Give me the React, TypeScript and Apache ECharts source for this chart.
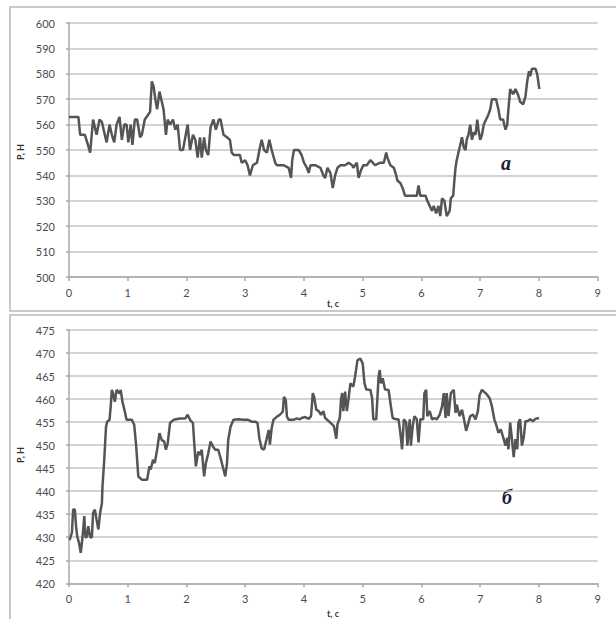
import React, { useEffect, useRef } from "react";
import * as echarts from "echarts";

const xTicks = [0, 1, 2, 3, 4, 5, 6, 7, 8, 9];

const timeA = [
  0.0, 0.16, 0.19, 0.27, 0.31, 0.36, 0.41, 0.47, 0.52, 0.56, 0.59, 0.64, 0.69, 0.73, 0.77, 0.81, 0.86, 0.9, 0.94, 0.98,
  1.01, 1.05, 1.08, 1.12, 1.16, 1.21, 1.24, 1.29, 1.35, 1.38, 1.41, 1.44, 1.47, 1.5, 1.54, 1.58, 1.61, 1.65, 1.68, 1.72,
  1.77, 1.81, 1.85, 1.89, 1.94, 1.98, 2.02, 2.06, 2.11, 2.15, 2.19, 2.23, 2.26, 2.3, 2.33, 2.37, 2.41, 2.46, 2.5, 2.55,
  2.58, 2.63, 2.69, 2.74, 2.77, 2.81, 2.86, 2.91, 2.94, 3.0, 3.04, 3.08, 3.13, 3.2, 3.25, 3.28, 3.32, 3.37, 3.41, 3.45,
  3.51, 3.54, 3.65, 3.74, 3.78, 3.8, 3.83, 3.91, 3.96, 4.0, 4.05, 4.08, 4.11, 4.19, 4.28, 4.33, 4.36, 4.4, 4.45, 4.49,
  4.53, 4.57, 4.62, 4.7, 4.76, 4.82, 4.84, 4.9, 4.93, 4.97, 5.01, 5.07, 5.13, 5.17, 5.21, 5.3, 5.36, 5.4, 5.42, 5.47,
  5.53, 5.57, 5.59, 5.64, 5.68, 5.72, 5.78, 5.87, 5.92, 5.95, 5.98, 6.07, 6.1, 6.14, 6.18, 6.21, 6.25, 6.29, 6.32, 6.35,
  6.39, 6.43, 6.48, 6.5, 6.54, 6.56, 6.58, 6.6, 6.63, 6.66, 6.69, 6.72, 6.75, 6.77, 6.8, 6.83, 6.86, 6.89, 6.92, 6.95,
  6.97, 7.0, 7.03, 7.06, 7.1, 7.14, 7.17, 7.2, 7.27, 7.31, 7.34, 7.39, 7.43, 7.46, 7.48, 7.51, 7.56, 7.6, 7.64, 7.68,
  7.73, 7.77, 7.8, 7.83, 7.85, 7.88, 7.94, 7.97, 8.0, 8.01,
];
const forceA = [
  563, 563, 556, 556, 553, 549, 562, 556, 562, 561, 558, 553, 560, 556, 553, 560, 563, 554, 560, 560,
  553, 560, 552, 562, 562, 555, 556, 562, 564, 565, 577, 575, 570, 566, 573, 569, 566, 556, 562, 560,
  562, 558, 560, 550, 550, 555, 560, 550, 556, 554, 547, 555, 547, 555, 550, 548, 559, 562, 558, 562,
  562, 556, 555, 554, 549, 548, 548, 548, 545, 546, 544, 540, 544, 545, 551, 554, 550, 549, 554, 550,
  545, 544, 544, 543, 539, 546, 550, 550, 548, 545, 543, 541, 544, 544, 543, 540, 539, 543, 541, 535,
  540, 543, 544, 544, 545, 544, 543, 545, 539, 542, 544, 544, 546, 545, 544, 545, 545, 549, 547, 544,
  543, 540, 538, 537, 535, 532, 532, 532, 532, 536, 532, 532, 530, 528, 526, 528, 525, 528, 524, 531,
  530, 524, 526, 531, 532, 538, 543, 546, 549, 552, 555, 551, 550, 554, 556, 560, 554, 557, 556, 562,
  558, 554, 556, 560, 562, 564, 566, 570, 570, 566, 562, 562, 558, 560, 566, 574, 572, 574, 572, 569,
  568, 571, 577, 581, 579, 582, 582, 580, 575, 574,
];

const timeB = [
  0.01, 0.05, 0.07, 0.1, 0.12, 0.14, 0.17, 0.2, 0.23, 0.26, 0.28, 0.3, 0.33, 0.36, 0.39, 0.41, 0.44, 0.47, 0.5, 0.53,
  0.56, 0.57, 0.6, 0.63, 0.65, 0.69, 0.71, 0.73, 0.75, 0.78, 0.81, 0.86, 0.88, 0.91, 0.95, 0.98, 1.07, 1.11, 1.14, 1.18,
  1.24, 1.33, 1.37, 1.39, 1.43, 1.46, 1.5, 1.54, 1.58, 1.62, 1.65, 1.68, 1.72, 1.78, 1.89, 1.98, 2.02, 2.06, 2.11, 2.13,
  2.16, 2.2, 2.23, 2.26, 2.28, 2.3, 2.33, 2.37, 2.41, 2.45, 2.49, 2.54, 2.58, 2.63, 2.66, 2.69, 2.71, 2.75, 2.8, 2.88,
  2.97, 3.05, 3.11, 3.17, 3.21, 3.24, 3.28, 3.32, 3.36, 3.4, 3.42, 3.45, 3.48, 3.54, 3.59, 3.64, 3.66, 3.69, 3.71, 3.74,
  3.82, 3.88, 3.93, 3.96, 4.02, 4.08, 4.12, 4.15, 4.17, 4.21, 4.25, 4.29, 4.33, 4.36, 4.42, 4.48, 4.51, 4.55, 4.57, 4.61,
  4.63, 4.65, 4.67, 4.7, 4.73, 4.76, 4.79, 4.84, 4.87, 4.91, 4.96, 5.0, 5.03, 5.06, 5.13, 5.16, 5.18, 5.23, 5.27, 5.29,
  5.31, 5.34, 5.38, 5.44, 5.48, 5.51, 5.57, 5.61, 5.64, 5.67, 5.7, 5.74, 5.76, 5.8, 5.82, 5.85, 5.88, 5.92, 5.95, 5.98,
  6.03, 6.05, 6.08, 6.1, 6.14, 6.18, 6.22, 6.26, 6.31, 6.35, 6.38, 6.41, 6.43, 6.46, 6.5, 6.55, 6.58, 6.6, 6.65, 6.69,
  6.72, 6.76, 6.8, 6.83, 6.88, 6.92, 6.96, 6.99, 7.03, 7.09, 7.12, 7.16, 7.2, 7.24, 7.27, 7.31, 7.35, 7.4, 7.43, 7.46,
  7.48, 7.51, 7.54, 7.57, 7.6, 7.63, 7.65, 7.68, 7.71, 7.74, 7.77, 7.8, 7.85, 7.9, 7.94, 8.0,
];
const forceB = [
  429.4, 431, 436, 436, 432.4, 430.2, 428.8, 426.6, 430, 434.6, 430, 430, 432.4, 430, 430, 435.3, 436, 433.8, 431.7, 435.3,
  437.4, 441, 446.8, 454, 455.1, 455.5, 458.4, 462, 461.2, 459.4, 462, 461.2, 462, 459.4, 457.3, 455.5, 455.5, 454.4, 450.4, 443.2,
  442.5, 442.5, 445.4, 444.7, 446.8, 446.1, 449, 452.6, 451.1, 450.8, 449, 450.4, 454.8, 455.5, 455.8, 455.8, 456.6, 455.5, 454.8, 450.8,
  445.4, 448.6, 447.9, 449, 446.1, 443.2, 446.1, 448.2, 450.8, 449.7, 449, 449, 447.2, 444.7, 443.2, 446.1, 451.1, 454, 455.5, 455.6,
  455.5, 455.5, 455.1, 455.1, 454.8, 451.5, 449.3, 449, 451.1, 453.3, 450.1, 453.7, 455.5, 456.2, 456.6, 457.3, 460.5, 459.8, 456.2, 455.5,
  455.5, 455.8, 455.6, 455.9, 456.1, 455.7, 456.3, 461.3, 460.6, 457.7, 457.4, 456.6, 457.4, 455.9, 455.2, 454.5, 454.1, 451.4, 454.5, 455.9,
  459.9, 461.3, 457.4, 461.6, 457.4, 460.2, 463.4, 462.7, 464.9, 468.4, 468.8, 467.7, 463.4, 462.1, 462, 460.2, 455.6, 455.6, 464.9, 466.3,
  463.4, 464.5, 462.1, 462, 458.4, 455.9, 455.6, 455.6, 452.7, 449.1, 455.6, 454.9, 449.9, 455.6, 449.9, 454.1, 456.3, 455.6, 450.6, 455.6,
  455.6, 461.3, 462, 456.3, 457.4, 455.6, 455.9, 455.6, 456.6, 458.4, 461.3, 455.9, 461.3, 456.3, 461.3, 462, 457, 458.8, 456.3, 457.7,
  455.9, 453.1, 454.9, 456.3, 456.6, 455.6, 457.4, 460.9, 462, 461.3, 460.9, 460.2, 458.4, 455.6, 454.5, 452.7, 453.4, 451.3, 449.9, 451.6,
  449.1, 454.9, 451.3, 447.4, 451.3, 449.1, 454.9, 455.6, 449.9, 451.6, 455.2, 455.2, 455.6, 455.2, 455.7, 455.9,
];

const yRangeA = { min: 500, max: 600, step: 10 };
const yRangeB = { min: 420, max: 475, step: 5 };

const axisLabelFont = "Lato, 'Open Sans', sans-serif";

export default function App() {
  const ref = useRef<HTMLDivElement>(null);

  useEffect(() => {
    if (!ref.current) return;
    const chart = echarts.init(ref.current, null, { renderer: "svg" });

    const xAxisBase = (gridIndex: number) => ({
      type: "value" as const,
      gridIndex,
      min: xTicks[0],
      max: xTicks[xTicks.length - 1],
      interval: 1,
      axisLine: { show: true, onZero: false, lineStyle: { color: "#a8a8a8", width: 1.5 } },
      axisTick: { show: true, length: 4, lineStyle: { color: "#a8a8a8", width: 1.5 } },
      axisLabel: { color: "#4a4a55", fontSize: 11, fontFamily: axisLabelFont, margin: 10 },
      splitLine: { show: false },
    });
    const yAxisBase = (gridIndex: number, r: { min: number; max: number; step: number }) => ({
      type: "value" as const,
      gridIndex,
      min: r.min,
      max: r.max,
      interval: r.step,
      axisLine: { show: true, lineStyle: { color: "#a8a8a8", width: 1.5 } },
      axisTick: { show: true, length: 3, lineStyle: { color: "#a8a8a8", width: 1.5 } },
      axisLabel: { color: "#4a4a55", fontSize: 11, fontFamily: axisLabelFont, margin: 14 },
      splitLine: { show: true, lineStyle: { color: "#c6c6c6", width: 1.5 } },
    });

    const lineStyle = { color: "#555555", width: 2.5 };

    chart.setOption({
      animation: false,
      backgroundColor: "#ffffff",
      grid: [
        { left: 69, top: 23, width: 528.7, height: 254 },
        { left: 69, top: 330, width: 528.7, height: 253.3 },
      ],
      xAxis: [xAxisBase(0), xAxisBase(1)],
      yAxis: [yAxisBase(0, yRangeA), yAxisBase(1, yRangeB)],
      series: [
        {
          type: "line",
          xAxisIndex: 0,
          yAxisIndex: 0,
          data: timeA.map((t, i) => [t, forceA[i]]),
          showSymbol: false,
          lineStyle,
          itemStyle: { color: "#555555" },
        },
        {
          type: "line",
          xAxisIndex: 1,
          yAxisIndex: 1,
          data: timeB.map((t, i) => [t, forceB[i]]),
          showSymbol: false,
          lineStyle,
          itemStyle: { color: "#555555" },
        },
      ],
      graphic: [
        { type: "rect", shape: { x: 10, y: 7, width: 620, height: 304 }, style: { fill: "none", stroke: "#b8b8b8", lineWidth: 1.5 }, silent: true },
        { type: "rect", shape: { x: 10, y: 315, width: 620, height: 320 }, style: { fill: "none", stroke: "#b8b8b8", lineWidth: 1.5 }, silent: true },
        { type: "text", x: 333, y: 303, style: { text: "t, с", fontSize: 9, fontWeight: "bold", fill: "#333", fontFamily: axisLabelFont, align: "center", verticalAlign: "middle" } },
        { type: "text", x: 333, y: 613, style: { text: "t, с", fontSize: 9, fontWeight: "bold", fill: "#333", fontFamily: axisLabelFont, align: "center", verticalAlign: "middle" } },
        { type: "text", x: 20, y: 152, rotation: Math.PI / 2, style: { text: "Р, Н", fontSize: 9, fontWeight: "bold", fill: "#333", fontFamily: axisLabelFont, align: "center", verticalAlign: "middle" } },
        { type: "text", x: 20, y: 455, rotation: Math.PI / 2, style: { text: "Р, Н", fontSize: 9, fontWeight: "bold", fill: "#333", fontFamily: axisLabelFont, align: "center", verticalAlign: "middle" } },
        { type: "text", x: 506, y: 163, style: { text: "а", fontSize: 20, fontWeight: "bold", fontStyle: "italic", fill: "#1c1c30", fontFamily: "'Liberation Serif', 'DejaVu Serif', serif", align: "center", verticalAlign: "middle" } },
        { type: "text", x: 507, y: 497, style: { text: "б", fontSize: 20, fontWeight: "bold", fontStyle: "italic", fill: "#1c1c30", fontFamily: "'Liberation Serif', 'DejaVu Serif', serif", align: "center", verticalAlign: "middle" } },
      ],
    });

    return () => chart.dispose();
  }, []);

  return (
    <div
      ref={ref}
      style={{ position: "fixed", left: 0, top: 0, width: 616, height: 619, background: "#fff" }}
    />
  );
}
